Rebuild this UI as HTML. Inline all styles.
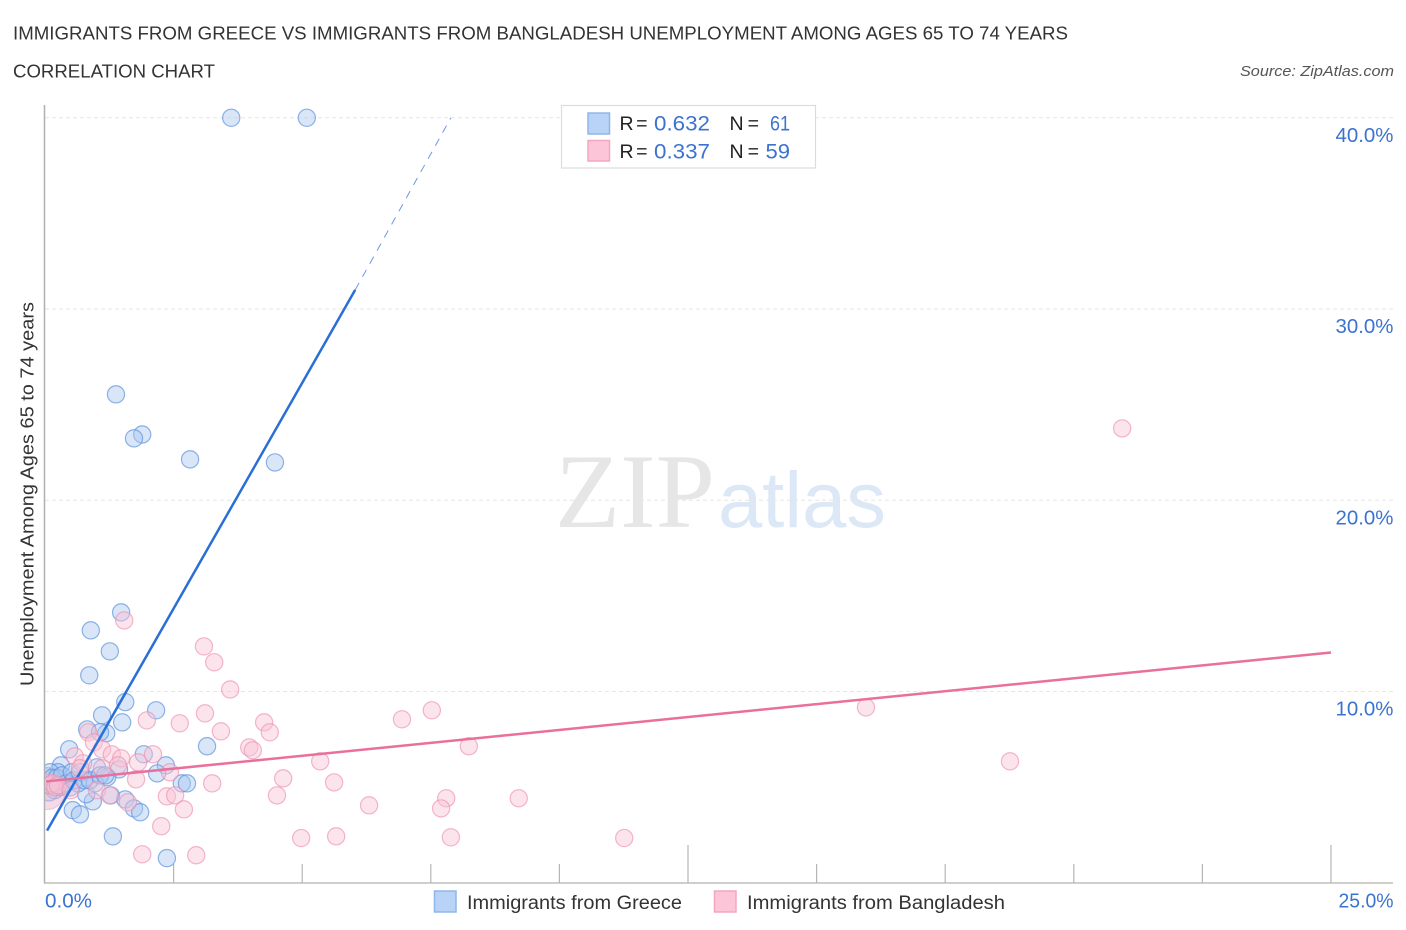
<!DOCTYPE html>
<html>
<head>
<meta charset="utf-8">
<title>Immigrants from Greece vs Immigrants from Bangladesh Unemployment</title>
<style>
html,body{margin:0;padding:0;background:#fff;}
svg{display:block;font-family:"Liberation Sans",sans-serif;}
svg text.wm-atlas{font-family:"Liberation Sans",sans-serif !important;font-style:normal;font-weight:400;}
</style>
</head>
<body>
<svg id="chart" width="1406" height="930" viewBox="0 0 1406 930" xmlns="http://www.w3.org/2000/svg">
  <defs><clipPath id="plot-clip"><rect x="45" y="100" width="1350" height="783"/></clipPath></defs>
  <rect x="0" y="0" width="1406" height="930" fill="#ffffff"/>
  <text x="13" y="39.5" font-size="18.5" fill="#333" textLength="1055" lengthAdjust="spacingAndGlyphs">IMMIGRANTS FROM GREECE VS IMMIGRANTS FROM BANGLADESH UNEMPLOYMENT AMONG AGES 65 TO 74 YEARS</text>
  <text x="13" y="77.5" font-size="18.5" fill="#333" textLength="202" lengthAdjust="spacingAndGlyphs">CORRELATION CHART</text>
  <text x="1394" y="76" font-size="15" font-style="italic" fill="#555" text-anchor="end" textLength="154" lengthAdjust="spacingAndGlyphs">Source: ZipAtlas.com</text>

  <g>
    <text x="555" y="527" font-family="'Liberation Serif',serif" font-size="106" fill="#e6e6e6" textLength="160" lengthAdjust="spacingAndGlyphs">ZIP</text>
    <text class="wm-atlas" x="718" y="527" font-size="79" fill="#dde8f7" textLength="168" lengthAdjust="spacingAndGlyphs">atlas</text>
  </g>

  <g id="grid"></g>
  <g id="axes"></g>
  <g id="blue-points" clip-path="url(#plot-clip)"></g>
  <g id="pink-points" clip-path="url(#plot-clip)"></g>
  <g id="lines"></g>
  <g id="labels"></g>

  <text transform="translate(33.5,686) rotate(-90)" font-size="18.5" fill="#333" textLength="384" lengthAdjust="spacingAndGlyphs">Unemployment Among Ages 65 to 74 years</text>

  <g>
    <rect x="561.5" y="105.5" width="254" height="62.5" fill="#fff" stroke="#dcdcdc" stroke-width="1.2"/>
    <rect x="588" y="113" width="21.5" height="21" fill="#b8d3f6" stroke="#8fb6ea" stroke-width="1.5"/>
    <rect x="588" y="140.5" width="21.5" height="20.5" fill="#fcc6d8" stroke="#f3a6bf" stroke-width="1.5"/>
    <text x="619.5" y="130" font-size="19.5" fill="#222" textLength="28" lengthAdjust="spacing">R =</text>
    <text x="654" y="130.5" font-size="21" fill="#3b73d0" textLength="56" lengthAdjust="spacingAndGlyphs">0.632</text>
    <text x="729.5" y="130" font-size="19.5" fill="#222" textLength="29.5" lengthAdjust="spacing">N =</text>
    <text x="770" y="130.5" font-size="21" fill="#3b73d0" textLength="20" lengthAdjust="spacingAndGlyphs">61</text>
    <text x="619.5" y="158" font-size="19.5" fill="#222" textLength="28" lengthAdjust="spacing">R =</text>
    <text x="654" y="158.5" font-size="21" fill="#3b73d0" textLength="56" lengthAdjust="spacingAndGlyphs">0.337</text>
    <text x="729.5" y="158" font-size="19.5" fill="#222" textLength="29.5" lengthAdjust="spacing">N =</text>
    <text x="765.5" y="158.5" font-size="21" fill="#3b73d0" textLength="24.5" lengthAdjust="spacingAndGlyphs">59</text>
  </g>

  <g>
    <g>
      <rect x="434.5" y="891" width="21.5" height="21" fill="#b8d3f6" stroke="#8fb6ea" stroke-width="1.5"/>
      <text x="467" y="909" font-size="19" fill="#333" textLength="215" lengthAdjust="spacingAndGlyphs">Immigrants from Greece</text>
    </g>
    <g>
      <rect x="714.5" y="891" width="21.5" height="21" fill="#fcc6d8" stroke="#f3a6bf" stroke-width="1.5"/>
      <text x="747" y="909" font-size="19" fill="#333" textLength="258" lengthAdjust="spacingAndGlyphs">Immigrants from Bangladesh</text>
    </g>
  </g>
</svg>
<script>
var xTicks = [0, 2.5, 5, 7.5, 10, 12.5, 15, 17.5, 20, 22.5, 25];
var xLongTicks = [12.5, 25];
var yTicks = [10, 20, 30, 40];
var yTickLabels = ["10.0%", "20.0%", "30.0%", "40.0%"];
var xEndLabels = ["0.0%", "25.0%"];

var greeceX = [3.62,5.09,1.38,1.89,1.73,2.82,4.47,1.48,0.89,1.26,0.86,1.56,2.16,1.11,1.50,0.82,1.19,1.07,3.15,0.47,1.92,2.35,2.18,1.01,1.44,1.21,0.31,0.25,2.66,2.76,1.28,1.56,1.73,1.85,0.54,0.68,0.93,0.80,1.32,2.37,0.49,0.97,0.64,0.04,0.10,0.16,0.19,0.06,0.14,0.23,0.29,0.33,0.41,0.52,0.56,0.68,0.76,0.87,1.07,1.17,0.08];
var greeceY = [40,40,25.54,23.44,23.24,22.14,21.98,14.14,13.2,12.1,10.85,9.45,9.02,8.76,8.39,8.02,7.82,7.87,7.14,6.98,6.72,6.14,5.72,6.04,5.93,5.52,6.14,5.78,5.2,5.2,4.57,4.36,3.89,3.69,3.8,3.58,4.26,4.63,2.43,1.29,4.99,5.2,5.2,5.57,5.78,5.1,4.84,5.1,5.49,5.49,5.0,5.62,5.2,5.78,5.36,5.78,5.36,5.36,5.62,5.62,4.73];

var bangladeshX = [20.94,1.54,3.09,3.29,3.60,3.11,2.62,3.42,1.98,0.84,0.95,1.11,1.30,1.48,2.10,1.81,0.58,0.74,0.68,1.11,1.42,2.43,1.77,3.25,2.37,2.53,2.70,2.26,1.89,2.94,1.61,1.01,1.26,4.26,4.37,3.97,4.04,5.35,4.63,4.51,5.62,6.30,4.98,5.66,6.94,7.52,8.24,7.80,7.70,7.89,9.21,11.26,15.96,18.76,0.10,0.14,0.20,0.25,0.50];
var bangladeshY = [23.76,13.72,12.36,11.53,10.11,8.86,8.34,7.92,8.49,7.87,7.34,6.98,6.72,6.51,6.72,6.30,6.61,6.25,5.99,5.99,6.14,5.78,5.41,5.20,4.52,4.57,3.84,2.96,1.49,1.44,4.21,4.84,4.57,8.39,7.87,7.08,6.93,6.35,5.46,4.57,5.25,4.05,2.34,2.43,8.55,9.02,7.14,4.42,3.89,2.38,4.42,2.34,9.17,6.35,5.1,5.2,5.0,5.1,4.84];
var bangladeshLargeX = [0.04];
var bangladeshLargeY = [4.75];
var bangladeshLargeWeight = [4.2];

var greeceTrendX = [0.04, 6.03];
var greeceTrendY = [2.73, 31.0];
var greeceForecastX = [6.03, 7.89];
var greeceForecastY = [31.0, 40];
var bangladeshTrendX = [0.02, 25];
var bangladeshTrendY = [5.3, 12.04];

function xScale(v) { return 45 + v * (1286 / 25); }
function yScale(v) { return 882.8 - v * 19.125; }

var NS = "http://www.w3.org/2000/svg";
function make(parentId, tag, props, text) {
  var el = document.createElementNS(NS, tag);
  for (var k in props) { el.setAttribute(k, props[k]); }
  if (text) { el.textContent = text; }
  document.getElementById(parentId).appendChild(el);
  return el;
}

yTicks.forEach(function (t, i) {
  var g = make("grid", "line", {x1: 45, x2: 1393, y1: yScale(t), y2: yScale(t), stroke: "#e6e6e6", "stroke-width": 1, "stroke-dasharray": "4 3"});
  
  
  var lab = make("labels", "text", {x: 1393.5, y: yScale(t) + 24, "font-size": 20, fill: "#3b73d0", "text-anchor": "end", textLength: 58, lengthAdjust: "spacingAndGlyphs"}, yTickLabels[i]);
  
  
});

var yAxis = make("axes", "line", {x1: 44.5, x2: 44.5, y1: 105, y2: 883.5, stroke: "#b0b0b0", "stroke-width": 1.5});


var xAxis = make("axes", "line", {x1: 44, x2: 1393, y1: 883, y2: 883, stroke: "#bdbdbd", "stroke-width": 1.6});



xTicks.forEach(function (t) {
  if (t === 0) { return; }
  var top = xLongTicks.indexOf(t) >= 0 ? 845 : 864;
  var tick = make("axes", "line", {x1: xScale(t), x2: xScale(t), y1: top, y2: 883, stroke: "#b5b5b5", "stroke-width": 1.2});
  
  
});

var xLabLeft = make("labels", "text", {x: 45, y: 907.5, "font-size": 20, fill: "#3b73d0", textLength: 47, lengthAdjust: "spacingAndGlyphs"}, xEndLabels[0]);


var xLabRight = make("labels", "text", {x: 1393.5, y: 907.5, "font-size": 20, fill: "#3b73d0", "text-anchor": "end", textLength: 55, lengthAdjust: "spacingAndGlyphs"}, xEndLabels[1]);



greeceX.forEach(function (v, i) {
  var p = make("blue-points", "circle", {cx: xScale(v), cy: yScale(greeceY[i]), r: 8.6, fill: "#a9c8f0", "fill-opacity": 0.45, stroke: "#5f93de", "stroke-opacity": 0.7, "stroke-width": 1.2});
  
  
});
bangladeshLargeX.forEach(function (v, i) {
  var big = make("pink-points", "circle", {cx: xScale(v), cy: yScale(bangladeshLargeY[i]), r: 8.6 * Math.sqrt(bangladeshLargeWeight[i]), fill: "#e9b4cf", "fill-opacity": 0.5, stroke: "#f0a0bc", "stroke-opacity": 0.5, "stroke-width": 1.2});
  
  
});
bangladeshX.forEach(function (v, i) {
  var p = make("pink-points", "circle", {cx: xScale(v), cy: yScale(bangladeshY[i]), r: 8.6, fill: "#f9c3d5", "fill-opacity": 0.45, stroke: "#ee8fb0", "stroke-opacity": 0.65, "stroke-width": 1.2});
  
  
});

var blueTrend = make("lines", "line", {x1: xScale(greeceTrendX[0]), y1: yScale(greeceTrendY[0]), x2: xScale(greeceTrendX[1]), y2: yScale(greeceTrendY[1]), stroke: "#2a6fd6", "stroke-width": 2.5});


var blueDash = make("lines", "line", {x1: xScale(greeceForecastX[0]), y1: yScale(greeceForecastY[0]), x2: xScale(greeceForecastX[1]), y2: yScale(greeceForecastY[1]), stroke: "#6f97de", "stroke-width": 1, "stroke-dasharray": "8 7"});


var pinkTrend = make("lines", "line", {x1: xScale(bangladeshTrendX[0]), y1: yScale(bangladeshTrendY[0]), x2: xScale(bangladeshTrendX[1]), y2: yScale(bangladeshTrendY[1]), stroke: "#e96f9c", "stroke-width": 2.5});


</script>
</body>
</html>
